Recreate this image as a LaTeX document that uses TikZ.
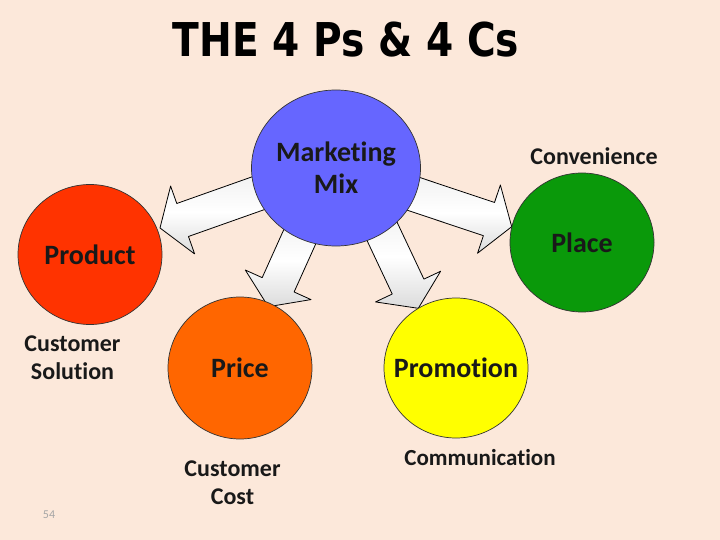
\documentclass[tikz,border=0pt]{standalone}
\usepackage{fontspec}
\setmainfont{Carlito}[Ligatures=NoCommon]
\newfontfamily\headfont{DejaVu Sans}
\usetikzlibrary{calc,shapes.geometric}

\definecolor{peach}{HTML}{FCE8DA}
\definecolor{mixblue}{HTML}{6666FF}
\definecolor{prodred}{HTML}{FF3300}
\definecolor{priceorange}{HTML}{FF6600}
\definecolor{promoyellow}{HTML}{FFFF00}
\definecolor{placegreen}{HTML}{0A990A}

% block arrow from tail #1 to tip #2
\newcommand{\marblearrow}[2]{%
  \path ($(#2)!24pt!(#1)$) coordinate (hb);
  \draw[marble] ($(#1)!17.5pt!90:(#2)$) -- ($(hb)!17.5pt!90:(#2)$) -- ($(hb)!36pt!90:(#2)$)
    -- (#2) -- ($(hb)!36pt!-90:(#2)$) -- ($(hb)!17.5pt!-90:(#2)$) -- ($(#1)!17.5pt!-90:(#2)$) -- cycle;
}

\begin{document}
\begin{tikzpicture}[x=1pt,y=-1pt,line join=round,
    ball/.style={ellipse,draw=black!80,line width=0.7pt,inner sep=0pt,minimum width=144pt,minimum height=140pt},
    word/.style={font=\fontsize{28}{32}\selectfont\bfseries,align=center,text=black!90},
    note/.style={font=\fontsize{24}{28}\selectfont\bfseries,align=center,text=black!90},
    marble/.style={draw=black,line width=0.8pt,top color=gray!12,bottom color=gray!28,middle color=white}]
  \fill[peach] (0,0) rectangle (720,540);
  \useasboundingbox (0,0) rectangle (720,540);

  \node[anchor=base] (title) at (346,57) {\scalebox{0.84}[1]{\headfont\bfseries\fontsize{46.6}{50}\selectfont THE 4 Ps \& 4 Cs}};

  % arrows
  \coordinate (lt) at (276.6,186.7);
  \coordinate (lh) at (160,228);
  \coordinate (rt) at (397.5,188.5);
  \coordinate (rh) at (511.7,226.7);
  \coordinate (dlt) at (306.5,221.8);
  \coordinate (dlh) at (268.3,306.7);
  \coordinate (drt) at (373.1,212.4);
  \coordinate (drh) at (418.3,308.3);
  \marblearrow{lt}{lh}
  \marblearrow{rt}{rh}
  \marblearrow{dlt}{dlh}
  \marblearrow{drt}{drh}

  % circles
  \node[ball,fill=mixblue,minimum width=169pt,minimum height=156pt] (mix) at (336,168) {};
  \node[ball,fill=prodred] (product) at (90,254.5) {};
  \node[ball,fill=priceorange,minimum height=142pt] (price) at (240,368) {};
  \node[ball,fill=promoyellow] (promo) at (456,368) {};
  \node[ball,fill=placegreen,minimum height=139pt] (place) at (582,242.5) {};

  \node[word] (mixtxt) at (mix) {Marketing\\Mix};
  \node[word] (prodtxt) at (product) {Product};
  \node[word] (pricetxt) at (price) {Price};
  \node[word] (promotxt) at (promo) {Promotion};
  \node[word] (placetxt) at (place) {Place};

  \node[note] (conv) at (594,156) {Convenience};
  \node[note] (sol) at (72.5,358) {Customer\\Solution};
  \node[note] (cost) at (232.5,483) {Customer\\Cost};
  \node[note,font=\fontsize{23}{27}\selectfont\bfseries] (comm) at (480,458) {Communication};
  \node[text=gray!70,font=\fontsize{12}{14}\selectfont] (page) at (49,515) {54};
\end{tikzpicture}
\end{document}
